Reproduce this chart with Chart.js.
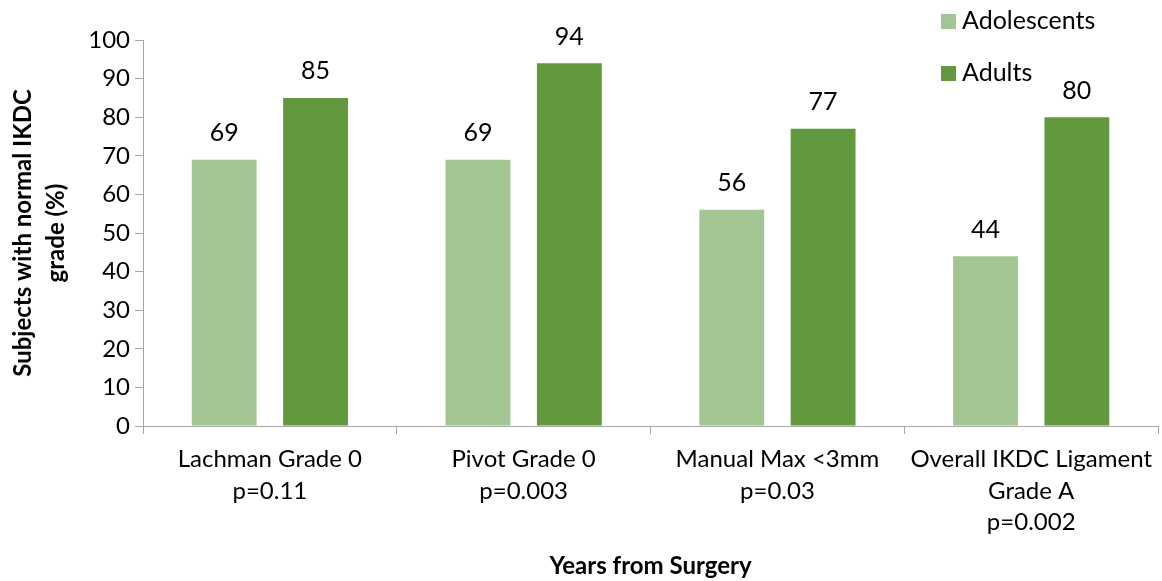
<!DOCTYPE html>
<html>
<head>
<meta charset="utf-8">
<script src="https://cdn.jsdelivr.net/npm/chart.js@4.4.1/dist/chart.umd.min.js"></script>
<style>
  html, body { margin: 0; padding: 0; background: #fff; }
  #wrap { width: 1162px; height: 581px; }
</style>
</head>
<body>
<div id="wrap"><canvas id="chart" width="1162" height="581"></canvas></div>
<script>
const categories = [
    ['Lachman Grade 0', 'p=0.11'],
    ['Pivot Grade 0', 'p=0.003'],
    ['Manual Max <3mm', 'p=0.03'],
    ['Overall IKDC Ligament', 'Grade A', 'p=0.002']
];
const adolescents = [69, 69, 56, 44];
const adults = [85, 94, 77, 80];
const seriesNames = ['Adolescents', 'Adults'];
const yTitle = ['Subjects with normal IKDC', 'grade (%)'];
const xTitle = 'Years from Surgery';

const FONT = 'Lato, "Open Sans", sans-serif';
const axisGrey = '#a6a6a6';

// value labels above each bar
const barValues = {
    id: 'barValues',
    afterDatasetsDraw(chart) {
        const ctx = chart.ctx;
        ctx.save();
        ctx.font = '25px ' + FONT;
        ctx.fillStyle = '#000';
        ctx.textAlign = 'center';
        ctx.textBaseline = 'bottom';
        chart.data.datasets.forEach((ds, i) => {
            chart.getDatasetMeta(i).data.forEach((bar, j) => {
                ctx.fillText(ds.data[j], bar.x, bar.y - 14);
            });
        });
        ctx.restore();
    }
};

// legend stacked in the top right corner
const cornerLegend = {
    id: 'cornerLegend',
    afterDraw(chart) {
        const ctx = chart.ctx;
        ctx.save();
        ctx.font = '25px ' + FONT;
        ctx.textBaseline = 'middle';
        chart.data.datasets.forEach((ds, i) => {
            const y = 21 + i * 52;
            ctx.fillStyle = ds.backgroundColor;
            ctx.fillRect(941, y - 7, 15, 15);
            ctx.fillStyle = '#000';
            ctx.fillText(ds.label, 962, y);
        });
        ctx.restore();
    }
};

new Chart(document.getElementById('chart'), {
    type: 'bar',
    data: {
        labels: categories,
        datasets: [
            { label: seriesNames[0], data: adolescents, backgroundColor: '#a2c592' },
            { label: seriesNames[1], data: adults, backgroundColor: '#62993e' }
        ]
    },
    options: {
        responsive: false,
        animation: false,
        categoryPercentage: 0.72,
        barPercentage: 0.71,
        layout: { padding: { top: 40, right: 0, left: 0, bottom: 0 } },
        plugins: {
            legend: { display: false },
            tooltip: { enabled: false }
        },
        scales: {
            y: {
                min: 0,
                max: 100,
                afterFit: s => { s.width = 143; },
                ticks: { stepSize: 10, color: '#000', font: { family: FONT, size: 24 }, padding: 5 },
                grid: { drawOnChartArea: false, drawTicks: true, tickLength: 8, color: axisGrey },
                border: { color: axisGrey },
                title: {
                    display: true,
                    text: yTitle,
                    color: '#000',
                    font: { family: FONT, size: 24, weight: 'bold', lineHeight: 1.4 },
                    padding: { top: 6, bottom: 0 }
                }
            },
            x: {
                afterFit: s => { s.height = 155; },
                ticks: { color: '#000', font: { family: FONT, size: 24, lineHeight: 1.3 }, maxRotation: 0, padding: 10 },
                grid: { drawOnChartArea: false, drawTicks: true, tickLength: 8, color: axisGrey, offset: true },
                border: { color: axisGrey },
                title: {
                    display: true,
                    text: xTitle,
                    color: '#000',
                    font: { family: FONT, size: 24, weight: 'bold' },
                    padding: { top: 0, bottom: 0 }
                }
            }
        }
    },
    plugins: [barValues, cornerLegend]
});
</script>
</body>
</html>
